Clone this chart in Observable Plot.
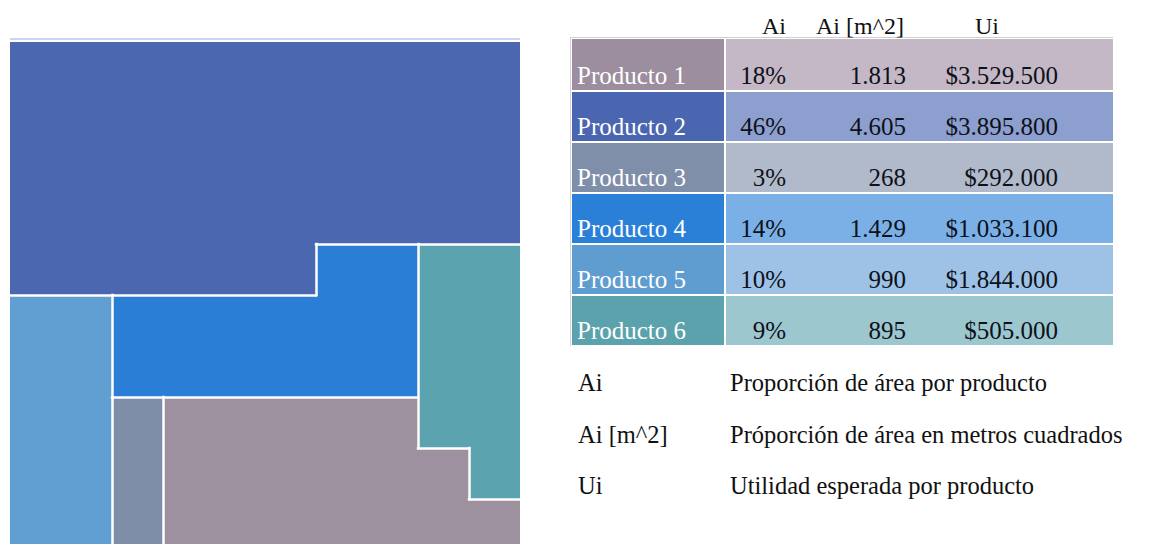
<!DOCTYPE html>
<html>
<head>
<meta charset="utf-8">
<script src="https://cdn.jsdelivr.net/npm/d3@7"></script>
<script src="https://cdn.jsdelivr.net/npm/@observablehq/plot@0.6"></script>
<style>
html, body { margin: 0; padding: 0; background: #fff; overflow: hidden; width: 1149px; height: 544px; }
#root { position: relative; width: 1149px; height: 544px; font-family: "Liberation Serif", "Times New Roman", serif; }
#plan { position: absolute; left: 0; top: 0; }
.txt { position: absolute; font-size: 24px; line-height: 24px; white-space: nowrap; }
.cellTxt { font-size: 25px; line-height: 25px; }
.legTxt { font-size: 24.5px; line-height: 24px; }
.box { position: absolute; }
</style>
</head>
<body>
<div id="root"><div id="plan"></div></div>
<script>
// ---- data ----
const products = ["Producto 1", "Producto 2", "Producto 3", "Producto 4", "Producto 5", "Producto 6"];
const planColors = ["#9d909f", "#4a67af", "#7f8ea8", "#2a7ed6", "#619ed1", "#5ba3ae"];
const labelColors = ["#9c8e9e", "#4a66b0", "#7f8faa", "#2a7fd6", "#5f9dd0", "#5ba2ad"];
const cellColors = ["#c5b8c6", "#8c9fcf", "#b1bacb", "#7bb0e6", "#9dc2e5", "#9cc7ce"];
const areaShare = [18, 46, 3, 14, 10, 9];
const areaM2 = [1813, 4605, 268, 1429, 990, 895];
const utility = [3529500, 3895800, 292000, 1033100, 1844000, 505000];
const columnHeaders = ["Ai", "Ai [m^2]", "Ui"];
const legendTerms = ["Ai", "Ai [m^2]", "Ui"];
const legendDescriptions = ["Proporción de área por producto", "Próporción de área en metros cuadrados", "Utilidad esperada por producto"];
// floor plan: 10x10 grid, each digit = product number (1 cell = 1%)
const planRows = [
  "2222222222",
  "2222222222",
  "2222222222",
  "2222222222",
  "2222224466",
  "5544444466",
  "5544444466",
  "5531111166",
  "5531111116",
  "5531111111"
];

// ---- derived tables ----
const cells = [];
planRows.forEach((row, r) => [...row].forEach((ch, c) => cells.push({r, c, product: products[+ch - 1]})));
// boundary segments between different products, merged into continuous runs
const vSegs = [], hSegs = [];
const nR = planRows.length, nC = planRows[0].length;
for (let c = 0; c < nC - 1; c++) {
  let start = null;
  for (let r = 0; r <= nR; r++) {
    const diff = r < nR && planRows[r][c] !== planRows[r][c + 1];
    if (diff && start === null) start = r;
    if (!diff && start !== null) { vSegs.push({x: c + 1, y1: start, y2: r}); start = null; }
  }
}
for (let r = 0; r < nR - 1; r++) {
  let start = null;
  for (let c = 0; c <= nC; c++) {
    const diff = c < nC && planRows[r][c] !== planRows[r + 1][c];
    if (diff && start === null) start = c;
    if (!diff && start !== null) { hSegs.push({y: r + 1, x1: start, x2: c}); start = null; }
  }
}
const topEdge = [{y: 0, x1: 0, x2: 10}];

const plan = Plot.plot({
  width: 530,
  height: 544,
  x: {domain: [0, 10], range: [10, 520], axis: null},
  y: {domain: [0, 10], range: [40, 550], axis: null},
  color: {domain: products, range: planColors},
  marks: [
    Plot.rect(cells, {x1: "c", x2: d => d.c + 1, y1: "r", y2: d => d.r + 1, fill: "product", shapeRendering: "crispEdges"}),
    Plot.ruleX(vSegs, {x: "x", y1: "y1", y2: "y2", stroke: "white", strokeWidth: 2.5, strokeLinecap: "square"}),
    Plot.ruleY(hSegs, {y: "y", x1: "x1", x2: "x2", stroke: "white", strokeWidth: 2.5, strokeLinecap: "square"}),
    Plot.ruleY(topEdge, {y: "y", x1: "x1", x2: "x2", stroke: "white", strokeWidth: 2, dy: 0.5}),
    Plot.ruleY(topEdge, {y: "y", x1: "x1", x2: "x2", stroke: "#9cacdc", strokeWidth: 1.2, dy: -1.5})
  ]
});
document.getElementById("plan").appendChild(plan);

// ---- table ----
const root = document.getElementById("root");
const fmtLocale = d3.formatLocale({decimal: ",", thousands: ".", grouping: [3], currency: ["$", ""]});
const fmtInt = fmtLocale.format(",d");
const fmtMoney = fmtLocale.format("$,d");

function box(left, top, w, h, bg) {
  const d = document.createElement("div");
  d.className = "box";
  Object.assign(d.style, {left: left + "px", top: top + "px", width: w + "px", height: h + "px", background: bg});
  root.appendChild(d);
  return d;
}
function text(parent, str, style, color, cls) {
  const s = document.createElement("span");
  s.className = "txt" + (cls ? " " + cls : "");
  s.textContent = str;
  Object.assign(s.style, style);
  s.style.color = color;
  parent.appendChild(s);
  return s;
}

// table borders
box(570, 37, 543, 1, "#cfcfd4");
box(570, 37, 1, 309, "#d6d6da");

products.forEach((p, i) => {
  const top = i === 0 ? 39 : 41 + 51 * i;
  const bottom = 90 + 51 * i;
  const h = bottom - top;
  const lab = box(572, top, 152, h, labelColors[i]);
  text(lab, p, {left: "5px", bottom: "2px"}, "#ffffff", "cellTxt");
  const dat = box(726, top, 387, h, cellColors[i]);
  text(dat, areaShare[i] + "%", {right: "327px", bottom: "2px"}, "#0e1119", "cellTxt");
  text(dat, fmtInt(areaM2[i]), {right: "207px", bottom: "2px"}, "#0e1119", "cellTxt");
  text(dat, fmtMoney(utility[i]), {right: "55px", bottom: "2px"}, "#0e1119", "cellTxt");
});

// headers
const headerCenters = [774, 860, 987];
columnHeaders.forEach((h, i) => {
  const s = text(root, h, {top: "14px"}, "#111");
  s.style.left = headerCenters[i] + "px";
  s.style.transform = "translateX(-50%)";
});

// legend
legendTerms.forEach((t, i) => {
  const top = 371 + 51.5 * i;
  text(root, t, {left: "578px", top: top + "px"}, "#111", "legTxt");
  text(root, legendDescriptions[i], {left: "730px", top: top + "px"}, "#111", "legTxt");
});
</script>
</body>
</html>
